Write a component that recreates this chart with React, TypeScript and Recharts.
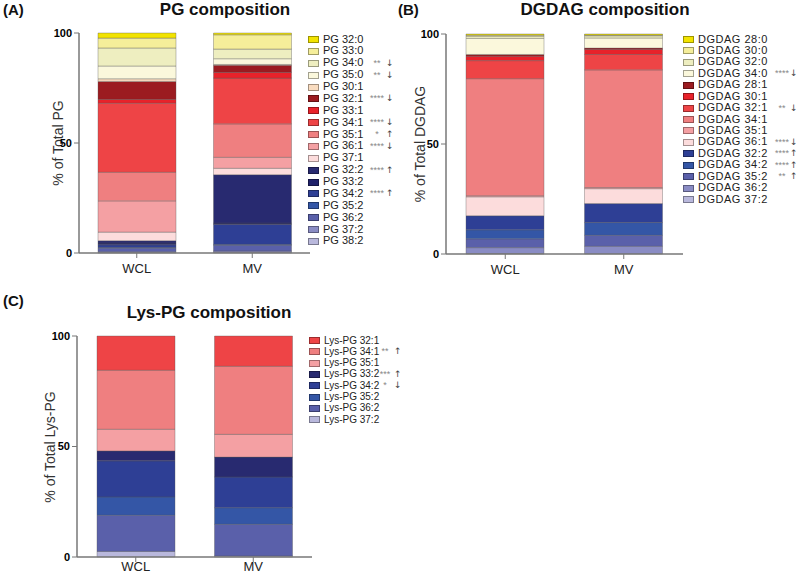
import { BarChart, Bar, XAxis, YAxis } from 'recharts'

const groups = ['WCL', 'MV']
const yTicks = [0, 50, 100]

// PG
const pgSpecies = ['PG 32:0', 'PG 33:0', 'PG 34:0', 'PG 35:0', 'PG 30:1', 'PG 32:1', 'PG 33:1', 'PG 34:1', 'PG 35:1', 'PG 36:1', 'PG 37:1', 'PG 32:2', 'PG 33:2', 'PG 34:2', 'PG 35:2', 'PG 36:2', 'PG 37:2', 'PG 38:2']
const pgWCL = [2.3, 4.5, 8.2, 5.8, 1.2, 8.2, 1.7, 31.4, 13.0, 14.2, 3.9, 1.1, 0.8, 1.2, 0.3, 1.6, 0.4, 0.2]
const pgMV = [0.8, 6.5, 4.4, 2.6, 0.4, 3.2, 2.6, 20.8, 15.2, 5.0, 2.9, 22.0, 0.6, 9.1, 0.4, 2.6, 0.6, 0.3]
const pgColors = ['#f2e300', '#f5ee9a', '#eeeec0', '#fbf8dc', '#f9dcc0', '#9b1b20', '#e8222a', '#ee4446', '#ef7f80', '#f4a0a3', '#fcdcdc', '#282a70', '#1f216a', '#2e3f95', '#3456a6', '#5a60aa', '#8a8cc4', '#b9b8dc']
const pgStars = ['', '', '**', '**', '', '****', '', '****', '*', '****', '', '****', '', '****', '', '', '', '']
const pgArrows = ['', '', '↓', '↓', '', '↓', '', '↓', '↑', '↓', '', '↑', '', '↑', '', '', '', '']

// DGDAG
const dgSpecies = ['DGDAG 28:0', 'DGDAG 30:0', 'DGDAG 32:0', 'DGDAG 34:0', 'DGDAG 28:1', 'DGDAG 30:1', 'DGDAG 32:1', 'DGDAG 34:1', 'DGDAG 35:1', 'DGDAG 36:1', 'DGDAG 32:2', 'DGDAG 34:2', 'DGDAG 35:2', 'DGDAG 36:2', 'DGDAG 37:2']
const dgWCL = [0.5, 0.5, 1.0, 7.3, 0.8, 2.0, 8.2, 53.2, 0.5, 8.6, 6.4, 4.1, 4.0, 2.7, 0.2]
const dgMV = [0.5, 0.3, 1.0, 4.6, 0.6, 2.3, 7.0, 53.5, 0.5, 6.8, 8.6, 5.8, 5.0, 3.5, 0.0]
const dgColors = ['#f2e300', '#f5ee9a', '#eeeec0', '#fbf8dc', '#9b1b20', '#e8222a', '#ee4446', '#ef7f80', '#f4a0a3', '#fcdcdc', '#2e3f95', '#3456a6', '#5a60aa', '#8a8cc4', '#b9b8dc']
const dgStars = ['', '', '', '****', '', '', '**', '', '', '****', '****', '****', '**', '', '']
const dgArrows = ['', '', '', '↓', '', '', '↓', '', '', '↓', '↑', '↑', '↑', '', '']

// Lys-PG
const lysSpecies = ['Lys-PG 32:1', 'Lys-PG 34:1', 'Lys-PG 35:1', 'Lys-PG 33:2', 'Lys-PG 34:2', 'Lys-PG 35:2', 'Lys-PG 36:2', 'Lys-PG 37:2']
const lysWCL = [15.5, 26.7, 9.8, 4.5, 16.3, 8.3, 16.4, 2.5]
const lysMV = [13.7, 30.8, 10.3, 9.0, 13.9, 7.5, 14.3, 0.5]
const lysColors = ['#ee4446', '#ef7f80', '#f4a0a3', '#282a70', '#2e3f95', '#3456a6', '#5a60aa', '#b9b8dc']
const lysStars = ['', '**', '', '***', '*', '', '', '']
const lysArrows = ['', '↑', '', '↑', '↓', '', '', '']

const FONT = '"Liberation Sans", Arial, sans-serif'

function buildRows(wcl: number[], mv: number[]) {
  return groups.map((g, gi) => {
    const row: Record<string, string | number> = { group: g }
    wcl.forEach((_, i) => {
      row[`s${i}`] = gi === 0 ? wcl[i] : mv[i]
    })
    return row
  })
}

type PanelProps = {
  rows: Record<string, string | number>[]
  colors: string[]
  left: number
  top: number
  width: number
  height: number
  margin: { top: number; right: number; bottom: number; left: number }
  labelGap: number
}

function StackPanel({ rows, colors, left, top, width, height, margin, labelGap }: PanelProps) {
  const order = colors.map((_, i) => i).reverse()
  return (
    <div style={{ position: 'absolute', left, top }}>
      <BarChart width={width} height={height} data={rows} margin={margin} barCategoryGap={0}>
        <XAxis
          dataKey="group"
          height={25}
          tickSize={5}
          tickMargin={labelGap}
          tick={{ fontSize: 13, fill: '#222', fontFamily: FONT }}
          axisLine={{ stroke: '#777', strokeWidth: 1.5 }}
          tickLine={{ stroke: '#777' }}
        />
        <YAxis
          type="number"
          domain={[0, 100]}
          ticks={yTicks}
          interval={0}
          width={40}
          tickSize={5}
          tickMargin={2}
          tick={{ fontSize: 11, fill: '#000', fontWeight: 700, fontFamily: FONT }}
          axisLine={{ stroke: '#777', strokeWidth: 1.5 }}
          tickLine={{ stroke: '#777' }}
        />
        {order.map((i) => (
          <Bar
            key={i}
            dataKey={`s${i}`}
            stackId="a"
            fill={colors[i]}
            stroke="#555"
            strokeOpacity={0.6}
            strokeWidth={0.6}
            barSize={78}
            isAnimationActive={false}
          />
        ))}
      </BarChart>
    </div>
  )
}

type LegendProps = {
  names: string[]
  colors: string[]
  stars: string[]
  arrows: string[]
  x: number
  y: number
  step: number
  starX: number
  arrowX: number
  fontSize: number
  spacing?: number
}

function SideLegend({ names, colors, stars, arrows, x, y, step, starX, arrowX, fontSize, spacing = 0 }: LegendProps) {
  const lh = Math.floor(step)
  return (
    <div style={{ position: 'absolute', left: 0, top: 0 }}>
      {names.map((n, i) => {
        const cy = y + i * step
        return (
          <div key={n}>
            <div
              style={{
                position: 'absolute',
                left: x,
                top: cy - 3,
                width: 9,
                height: 5,
                background: colors[i],
                border: '0.5px solid rgba(0,0,0,0.35)',
              }}
            />
            <div
              style={{
                position: 'absolute',
                left: x + 15,
                top: cy - lh / 2,
                height: lh,
                fontSize,
                letterSpacing: spacing,
                lineHeight: `${lh}px`,
                color: '#222',
                whiteSpace: 'nowrap',
                fontFamily: FONT,
              }}
            >
              {n}
            </div>
            {stars[i] && (
              <div
                style={{
                  position: 'absolute',
                  left: starX - 12,
                  width: 24,
                  textAlign: 'center',
                  top: cy - 4,
                  fontSize: 9,
                  lineHeight: '9px',
                  color: '#888',
                  fontFamily: FONT,
                }}
              >
                {stars[i]}
              </div>
            )}
            {arrows[i] && (
              <div
                style={{
                  position: 'absolute',
                  left: arrowX - 4,
                  top: cy - 5,
                  fontSize: 9,
                  lineHeight: '10px',
                  color: '#444',
                  fontFamily: '"DejaVu Sans", sans-serif',
                }}
              >
                {arrows[i]}
              </div>
            )}
          </div>
        )
      })}
    </div>
  )
}

function Title({ text, cx, top }: { text: string; cx: number; top: number }) {
  return (
    <div
      style={{
        position: 'absolute',
        left: cx - 150,
        width: 300,
        top,
        textAlign: 'center',
        fontSize: 17,
        fontWeight: 700,
        lineHeight: '20px',
        color: '#111',
        fontFamily: FONT,
      }}
    >
      {text}
    </div>
  )
}

function PanelTag({ text, left, top }: { text: string; left: number; top: number }) {
  return (
    <div
      style={{
        position: 'absolute',
        left,
        top,
        fontSize: 15,
        fontWeight: 700,
        lineHeight: '18px',
        color: '#111',
        fontFamily: FONT,
      }}
    >
      {text}
    </div>
  )
}

function AxisTitle({ text, cx, cy }: { text: string; cx: number; cy: number }) {
  return (
    <div
      style={{
        position: 'absolute',
        left: cx - 100,
        top: cy - 9,
        width: 200,
        height: 18,
        textAlign: 'center',
        fontSize: 14,
        lineHeight: '18px',
        color: '#333',
        transform: 'rotate(-90deg)',
        fontFamily: FONT,
        whiteSpace: 'nowrap',
      }}
    >
      {text}
    </div>
  )
}

export default function App() {
  return (
    <div
      style={{
        position: 'absolute',
        left: 0,
        top: 0,
        width: 798,
        height: 574,
        overflow: 'hidden',
        background: '#fff',
        fontFamily: FONT,
      }}
    >
      <PanelTag text="(A)" left={3} top={1} />
      <Title text="PG composition" cx={225} top={0} />
      <AxisTitle text="% of Total PG" cx={58} cy={143} />
      <StackPanel
        rows={buildRows(pgWCL, pgMV)}
        colors={pgColors}
        left={0}
        top={0}
        width={320}
        height={290}
        margin={{ top: 33, right: 10, bottom: 12, left: 39 }}
        labelGap={6}
      />
      <SideLegend names={pgSpecies} colors={pgColors} stars={pgStars} arrows={pgArrows} x={308} y={39} step={11.88} starX={377} arrowX={390} fontSize={11} />

      <PanelTag text="(B)" left={398} top={1} />
      <Title text="DGDAG composition" cx={605} top={0} />
      <AxisTitle text="% of Total DGDAG" cx={420} cy={144} />
      <StackPanel
        rows={buildRows(dgWCL, dgMV)}
        colors={dgColors}
        left={380}
        top={0}
        width={310}
        height={291}
        margin={{ top: 34, right: 7, bottom: 12, left: 26 }}
        labelGap={6}
      />
      <SideLegend names={dgSpecies} colors={dgColors} stars={dgStars} arrows={dgArrows} x={683} y={39} step={11.43} starX={782} arrowX={794} fontSize={11} spacing={0.5} />

      <PanelTag text="(C)" left={3} top={292} />
      <Title text="Lys-PG composition" cx={209} top={303} />
      <AxisTitle text="% of Total Lys-PG" cx={50} cy={447} />
      <StackPanel
        rows={buildRows(lysWCL, lysMV)}
        colors={lysColors}
        left={0}
        top={300}
        width={322}
        height={285}
        margin={{ top: 36, right: 10, bottom: 3, left: 37 }}
        labelGap={0}
      />
      <SideLegend names={lysSpecies} colors={lysColors} stars={lysStars} arrows={lysArrows} x={309} y={340} step={11.33} starX={385} arrowX={398} fontSize={10} />
    </div>
  )
}
